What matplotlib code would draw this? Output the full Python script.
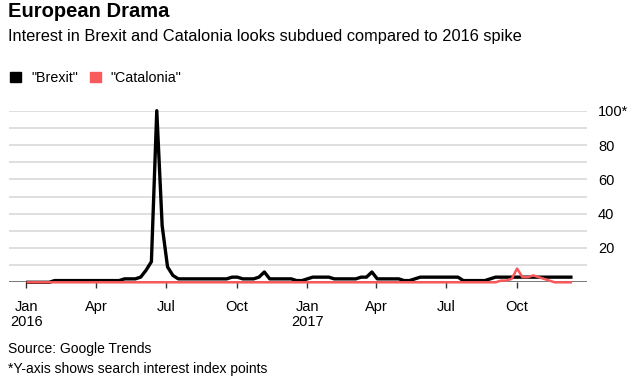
import matplotlib
matplotlib.use("Agg")
import matplotlib.pyplot as plt
import matplotlib.dates as mdates
import numpy as np
import pandas as pd

plt.rcParams['font.family'] = ['Liberation Sans', 'DejaVu Sans']

# weekly Google Trends, weeks starting 2016-01-03
start = "2016-01-03"
brexit = [0, 0, 0, 0, 0, 1, 1, 1, 1, 1,
          1, 1, 1, 1, 1, 1, 1, 1, 2, 2,
          2, 3, 7, 12, 100, 33, 9, 4, 2, 2,
          2, 2, 2, 2, 2, 2, 2, 2, 3, 3,
          2, 2, 2, 3, 6, 2, 2, 2, 2, 2,
          1, 1, 2, 3, 3, 3, 3, 2, 2, 2,
          2, 2, 3, 3, 6, 2, 2, 2, 2, 2,
          1, 1, 2, 3, 3, 3, 3, 3, 3, 3,
          3, 1, 1, 1, 1, 1, 2, 3, 3, 3,
          3, 3, 3, 3, 3, 3, 3, 3, 3, 3,
          3, 3]
catalonia = [0] * 88 + [1, 1, 2, 8, 3, 3, 4, 3, 2, 1, 0, 0, 0, 0]
dates = pd.date_range(start, periods=len(brexit), freq="7D")

y_ticks = [0, 10, 20, 30, 40, 50, 60, 70, 80, 90, 100]
y_labels = ["", "", "20", "", "40", "", "60", "", "80", "", "100*"]

W, H = 635, 381
fig = plt.figure(figsize=(W / 100, H / 100), dpi=100)
ax = fig.add_axes([8.5 / W, 1 - 282.3 / H, (587 - 8.5) / W, (282.3 - 110.7) / H])

red = "#f8595b"
ax.plot(dates, brexit, color="black", lw=2.4, clip_on=False, zorder=3)
ax.plot(dates, catalonia, color=red, lw=1.8, clip_on=False, zorder=4)

ax.set_ylim(0, 100)
ax.set_xlim(pd.Timestamp("2015-12-09"), pd.Timestamp("2017-12-31"))
ax.set_yticks(y_ticks)
ax.set_yticklabels(y_labels)
ax.yaxis.tick_right()
ax.tick_params(axis="y", length=0, pad=8, labelsize=10.5, colors="black")
ax.grid(axis="y", color="#dcdcdc", lw=1.3)
ax.axhline(0, color="#666666", lw=1.2, zorder=2)

ax.xaxis.set_major_locator(mdates.MonthLocator(bymonth=[1, 4, 7, 10]))
def fmt(x, pos):
    d = mdates.num2date(x)
    s = d.strftime("%b")
    if d.month == 1:
        s += "\n" + str(d.year)
    return s
ax.xaxis.set_major_formatter(plt.FuncFormatter(fmt))
ax.tick_params(axis="x", length=4.5, width=1, color="#333333", pad=8,
               labelsize=10.5)
for lab in ax.get_xticklabels():
    lab.set_linespacing(1.15)
for s in ax.spines.values():
    s.set_visible(False)

def fy(px):
    return 1 - px / H

fig.text(8 / W, fy(17), "European Drama", fontsize=14.5, fontweight="bold",
         va="baseline")
fig.text(8 / W, fy(41), "Interest in Brexit and Catalonia looks subdued compared to 2016 spike",
         fontsize=11.8, va="baseline")

# legend
fig.patches.append(plt.Rectangle((10 / W, fy(82)), 11 / W, 10.5 / H,
                                 color="black", transform=fig.transFigure))
fig.text(31 / W, fy(82), '"Brexit"', fontsize=10.3, va="baseline")
fig.patches.append(plt.Rectangle((90 / W, fy(82)), 11 / W, 10.5 / H,
                                 color=red, transform=fig.transFigure))
fig.text(110 / W, fy(82), '"Catalonia"', fontsize=10.3, va="baseline")

fig.text(8 / W, fy(353), "Source: Google Trends", fontsize=10, va="baseline")
fig.text(8 / W, fy(373), "*Y-axis shows search interest index points",
         fontsize=10, va="baseline")

fig.savefig("out.png", dpi=100)
